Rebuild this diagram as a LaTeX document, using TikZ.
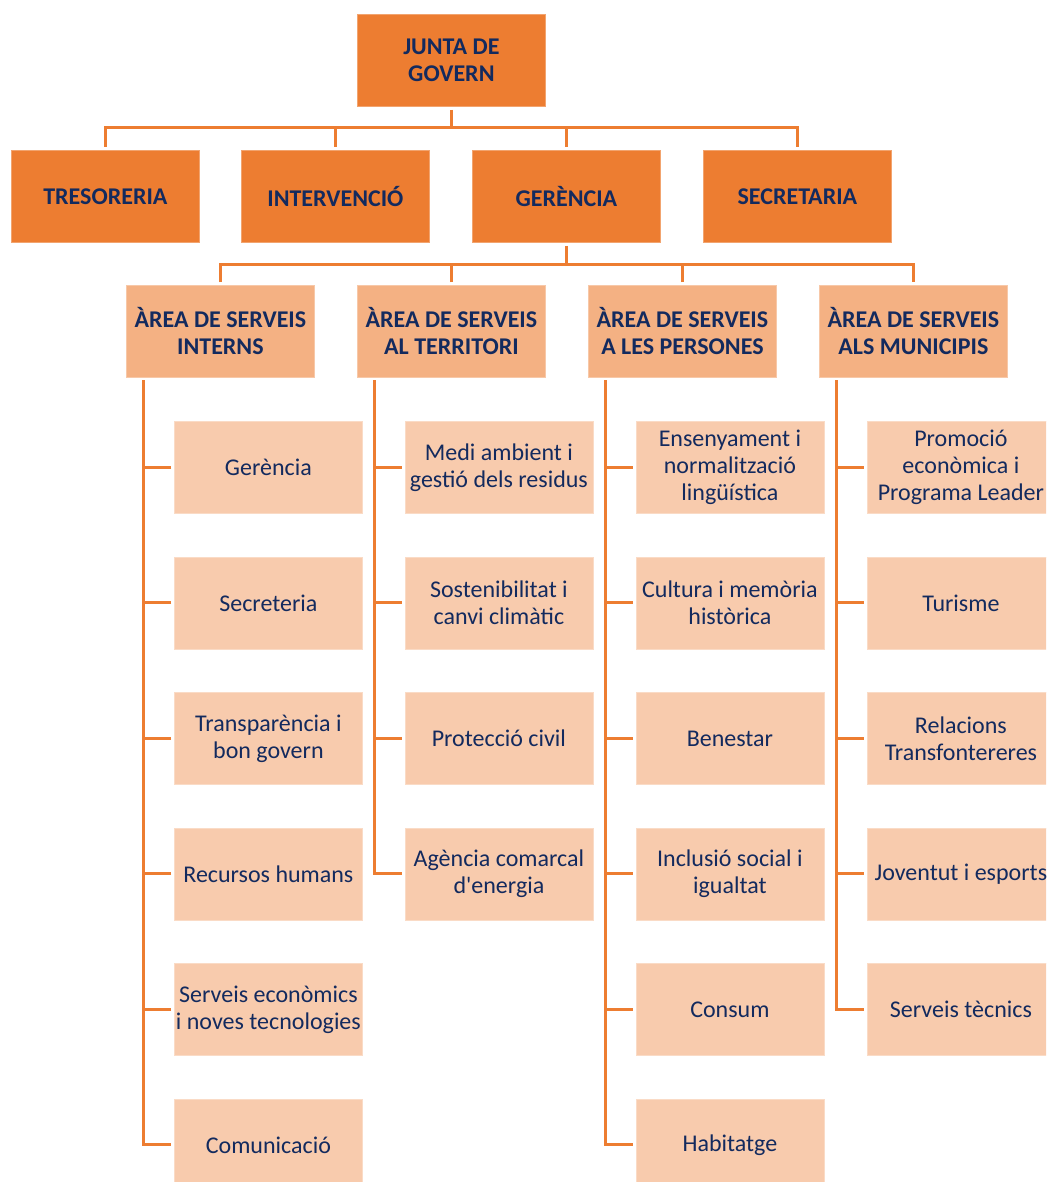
\documentclass[tikz,border=0pt]{standalone}
\usepackage{fontspec}
\newfontfamily\cfont{Carlito}
\begin{document}
\begin{tikzpicture}[x=1pt,y=-1pt,
  conn/.style={draw=corange,line width=3pt},
  basebox/.style={minimum width=188pt,minimum height=92pt,inner sep=1pt,align=center,text=navy,anchor=north west,font=\cfont\fontsize{24}{27}\selectfont},
  topbox/.style={basebox,fill=corange,draw=corange!70!white,line width=0.8pt,font=\cfont\bfseries\fontsize{24}{27}\selectfont},
  areabox/.style={basebox,fill=carea,draw=carea!70!white,line width=0.8pt,font=\cfont\bfseries\fontsize{24}{27}\selectfont},
  leafbox/.style={basebox,fill=cleaf,draw=cleaf!70!white,line width=0.8pt}]
\definecolor{corange}{HTML}{ED7D31}
\definecolor{carea}{HTML}{F4B183}
\definecolor{cleaf}{HTML}{F8CBAD}
\definecolor{navy}{HTML}{132A5E}
\clip (0,0) rectangle (1046,1182);
\fill[white] (0,0) rectangle (1046,1182);
% top
\node[topbox] (junta) at (357,14) {JUNTA DE\\GOVERN};
\node[topbox] (tres) at (11,150) {TRESORERIA};
\node[topbox] (interv) at (241,150) {INTERVENCIÓ};
\node[topbox] (ger) at (472,150) {GERÈNCIA};
\node[topbox] (secr) at (703,150) {SECRETARIA};
% areas
\node[areabox] (a1) at (126,285) {ÀREA DE SERVEIS\\INTERNS};
\node[areabox] (a2) at (357,285) {ÀREA DE SERVEIS\\AL TERRITORI};
\node[areabox] (a3) at (588,285) {ÀREA DE SERVEIS\\A LES PERSONES};
\node[areabox] (a4) at (819,285) {ÀREA DE SERVEIS\\ALS MUNICIPIS};
% leaves column 1
\node[leafbox] (l11) at (174,421) {Gerència};
\node[leafbox] (l12) at (174,556.5) {Secreteria};
\node[leafbox] (l13) at (174,692) {Transparència i\\bon govern};
\node[leafbox] (l14) at (174,827.5) {Recursos humans};
\node[leafbox] (l15) at (174,963) {Serveis econòmics\\i noves tecnologies};
\node[leafbox] (l16) at (174,1098.5) {Comunicació};
% column 2
\node[leafbox] (l21) at (404.5,421) {Medi ambient i\\gestió dels residus};
\node[leafbox] (l22) at (404.5,556.5) {Sostenibilitat i\\canvi climàtic};
\node[leafbox] (l23) at (404.5,692) {Protecció civil};
\node[leafbox] (l24) at (404.5,827.5) {Agència comarcal\\d'energia};
% column 3
\node[leafbox] (l31) at (635.5,421) {Ensenyament i\\normalització\\lingüística};
\node[leafbox] (l32) at (635.5,556.5) {Cultura i memòria\\històrica};
\node[leafbox] (l33) at (635.5,692) {Benestar};
\node[leafbox] (l34) at (635.5,827.5) {Inclusió social i\\igualtat};
\node[leafbox] (l35) at (635.5,963) {Consum};
\node[leafbox] (l36) at (635.5,1098.5) {Habitatge};
% column 4
\node[leafbox] (l41) at (866.5,421) {Promoció\\econòmica i\\Programa Leader};
\node[leafbox] (l42) at (866.5,556.5) {Turisme};
\node[leafbox] (l43) at (866.5,692) {Relacions\\Transfontereres};
\node[leafbox] (l44) at (866.5,827.5) {Joventut i esports};
\node[leafbox] (l45) at (866.5,963) {Serveis tècnics};
% top bus
\coordinate (bus1) at (junta.south |- 0,128);
\draw[conn] ([yshift=-3pt]junta.south) -- (bus1);
\draw[conn] ([yshift=3pt]tres.north) |- (bus1) -| ([yshift=3pt]secr.north);
\draw[conn] ([yshift=3pt]interv.north) -- (interv.north |- bus1);
\draw[conn] ([yshift=3pt]ger.north) -- (ger.north |- bus1);
% second bus
\coordinate (bus2) at (ger.south |- 0,264);
\draw[conn] ([yshift=-3pt]ger.south) -- (bus2);
\draw[conn] ([yshift=3pt]a1.north) |- (bus2) -| ([yshift=3pt]a4.north);
\draw[conn] ([yshift=3pt]a2.north) -- (a2.north |- bus2);
\draw[conn] ([yshift=3pt]a3.north) -- (a3.north |- bus2);
% verticals
\coordinate (v1) at (143,380);
\coordinate (v2) at (374,380);
\coordinate (v3) at (605,380);
\coordinate (v4) at (836.5,380);
\draw[conn] (v1) |- ([xshift=-3pt]l16.west);
\draw[conn] (v2) |- ([xshift=-3pt]l24.west);
\draw[conn] (v3) |- ([xshift=-3pt]l36.west);
\draw[conn] (v4) |- ([xshift=-3pt]l45.west);
\foreach \n in {l11,l12,l13,l14,l15}{\draw[conn] ([xshift=-3pt]\n.west) -- (\n.west -| v1);}
\foreach \n in {l21,l22,l23}{\draw[conn] ([xshift=-3pt]\n.west) -- (\n.west -| v2);}
\foreach \n in {l31,l32,l33,l34,l35}{\draw[conn] ([xshift=-3pt]\n.west) -- (\n.west -| v3);}
\foreach \n in {l41,l42,l43,l44}{\draw[conn] ([xshift=-3pt]\n.west) -- (\n.west -| v4);}
\end{tikzpicture}
\end{document}
